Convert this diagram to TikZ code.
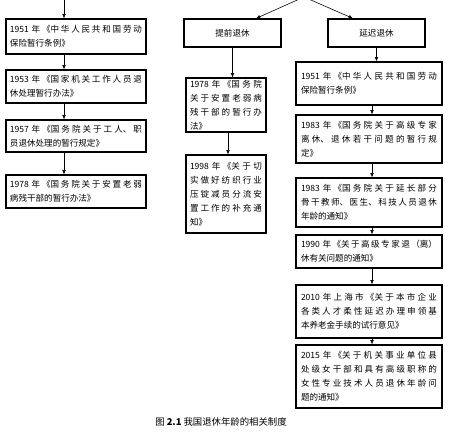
\documentclass[tikz,border=0pt]{standalone}
\usepackage{fontspec}
\setmainfont{Noto Sans CJK SC}
\XeTeXlinebreaklocale "zh"
\XeTeXlinebreakskip=0pt plus 2pt minus 0.2pt
\tolerance=9999
\usetikzlibrary{arrows.meta,calc}

\begin{document}
\begin{tikzpicture}[
    x=0.03cm, y=-0.03cm,
    font=\fontsize{7.3pt}{12pt}\selectfont,
    box/.style  = {draw=black, line width=1pt, inner xsep=0.12cm, inner ysep=0.05cm,
                   align=justify},
    lbox/.style = {box, text width=3.96cm},
    mbox/.style = {box, text width=2.16cm},
    rbox/.style = {box, inner xsep=0.15cm, text width=4.08cm},
    hbox/.style = {draw=black, line width=1pt, minimum width=2.91cm,
                   minimum height=0.84cm, align=center},
    ar/.style   = {-{Latex[length=1.3mm,width=1.1mm]}, draw=black, line width=0.5pt},
]
\useasboundingbox (0,0) rectangle (449,437);

%--- left column
\node[lbox, minimum height=1.05cm] (l1) at (76,36.5)
      {1951 年《中华人民共和国劳动\linebreak 保险暂行条例》};
\node[lbox, minimum height=0.99cm] (l2) at (76,86.5)
      {1953 年《国家机关工作人员退\linebreak 休处理暂行办法》};
\node[lbox, minimum height=0.96cm] (l3) at (76,136)
      {1957 年《国务院关于工人、职\linebreak 员退休处理的暂行规定》};
\node[lbox, minimum height=0.99cm] (l4) at (76,191.5)
      {1978 年《国务院关于安置老弱\linebreak 病残干部的暂行办法》};

%--- two kinds of retirement
\coordinate (apex) at (304,-3);
\node[hbox] (early) at (232.5,33) {提前退休};
\node[hbox] (late)  at (376.5,33) {延迟退休};

%--- middle column
\node[mbox, minimum height=1.62cm] (m1) at (226,105)
      {1978 年《国务院\linebreak 关于安置老弱病\linebreak 残干部的暂行办\linebreak 法》};
\node[mbox, minimum height=2.34cm] (m2) at (226,194)
      {1998 年《关于切\linebreak 实做好纺织行业\linebreak 压锭减员分流安\linebreak 置工作的补充通\linebreak 知》};

%--- right column
\node[rbox, minimum height=1.29cm] (r1) at (369,83.5)
      {1951 年《中华人民共和国劳动\linebreak 保险暂行条例》};
\node[rbox, minimum height=1.44cm] (r2) at (369,139)
      {1983 年《国务院关于高级专家\linebreak 离休、退休若干问题的暂行规\linebreak 定》};
\node[rbox, minimum height=1.47cm] (r3) at (369,202.5)
      {1983 年《国务院关于延长部分\linebreak 骨干教师、医生、科技人员退休\linebreak 年龄的通知》};
\node[rbox, minimum height=0.99cm] (r4) at (369,251.5)
      {1990 年《关于高级专家退（离）\linebreak 休有关问题的通知》};
\node[rbox, minimum height=1.59cm] (r5) at (369,311.5)
      {2010 年上海市《关于本市企业\linebreak 各类人才柔性延迟办理申领基\linebreak 本养老金手续的试行意见》};
\node[rbox, minimum height=1.89cm] (r6) at (369,376.5)
      {2015 年《关于机关事业单位县\linebreak 处级女干部和具有高级职称的\linebreak 女性专业技术人员退休年龄问\linebreak 题的通知》};

%--- caption
\node[font=\fontsize{8pt}{10pt}\selectfont] (cap) at (221,422)
      {图 \textbf{2.1} 我国退休年龄的相关制度};

%--- edges
\coordinate (lx) at (64,-3);
\coordinate (rx) at (372,0);
\draw[ar] (lx) -- (lx |- l1.north);
\draw[ar] (lx |- l1.south) -- (lx |- l2.north);
\draw[ar] (lx |- l2.south) -- (lx |- l3.north);
\draw[ar] (lx |- l3.south) -- (lx |- l4.north);

\draw[ar] (apex) -- ($(early.north)+(23.5,0)$);
\draw[ar] (apex) -- ($(late.north)+(-23.5,0)$);

\draw[ar] (early) -- (early |- m1.north);
\draw[ar] ($(m1.south)+(2,0)$) -- ($(m2.north)+(2,0)$);

\draw[ar] (late) -- (late |- r1.north);
\draw[ar] (rx |- r1.south) -- (rx |- r2.north);
\draw[ar] (rx |- r2.south) -- (rx |- r3.north);
\draw[ar] (rx |- r3.south) -- (rx |- r4.north);
\draw[ar] (rx |- r4.south) -- (rx |- r5.north);
\draw[ar] (rx |- r5.south) -- (rx |- r6.north);

\end{tikzpicture}
\end{document}
